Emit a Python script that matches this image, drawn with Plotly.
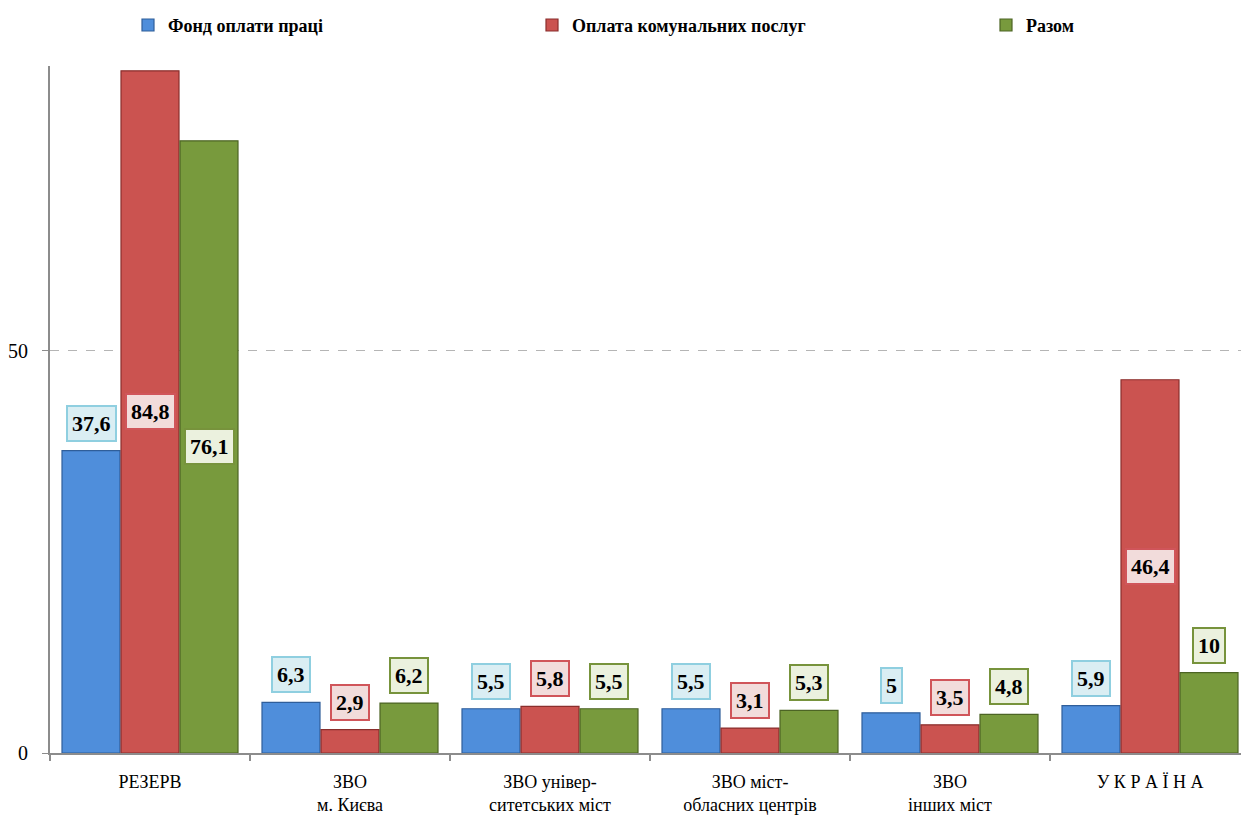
import plotly.graph_objects as go

categories = ["РЕЗЕРВ", "ЗВО<br>м. Києва", "ЗВО універ-<br>ситетських міст",
              "ЗВО міст-<br>обласних центрів", "ЗВО<br>інших міст", "У К Р А Ї Н А"]
series_names = ["Фонд оплати праці", "Оплата комунальних послуг", "Разом"]
fond = [37.6, 6.3, 5.5, 5.5, 5.0, 5.9]
komun = [84.8, 2.9, 5.8, 3.1, 3.5, 46.4]
razom = [76.1, 6.2, 5.5, 5.3, 4.8, 10.0]
label_text = [
    ["37,6", "6,3", "5,5", "5,5", "5", "5,9"],
    ["84,8", "2,9", "5,8", "3,1", "3,5", "46,4"],
    ["76,1", "6,2", "5,5", "5,3", "4,8", "10"],
]
# which labels sit inside the bar (centred)
label_inside = [
    [False] * 6,
    [True, False, False, False, False, True],
    [True, False, False, False, False, False],
]

bar_colors = ["#4F8EDB", "#CB5350", "#789A3D"]
bar_edges = ["#2F5E9A", "#8A2E2C", "#4C6424"]
box_fill = ["#DAEEF3", "#F2DCDB", "#EBF1DE"]
box_edge = ["#8FCFE0", "#D0555A", "#77933C"]

FONT = "Liberation Serif"
offsets = [-0.295, 0.0, 0.295]
bar_w = 0.29
values = [fond, komun, razom]

fig = go.Figure()
legend_ids = ["legend", "legend2", "legend3"]
for s in range(3):
    xs = [i + offsets[s] for i in range(len(categories))]
    fig.add_trace(go.Bar(
        x=xs, y=values[s], width=bar_w, name=series_names[s],
        marker=dict(color=bar_colors[s], line=dict(color=bar_edges[s], width=1.2)),
        legend=legend_ids[s], showlegend=True, hoverinfo="skip",
    ))
    for i, v in enumerate(values[s]):
        common = dict(showarrow=False, bgcolor=box_fill[s], bordercolor=box_edge[s],
                      borderwidth=2, borderpad=4,
                      font=dict(family=FONT, size=22, color="black"))
        if label_inside[s][i]:
            fig.add_annotation(x=xs[i], y=v / 2, text="<b>" + label_text[s][i] + "</b>",
                               yanchor="middle", **common)
        else:
            fig.add_annotation(x=xs[i], y=v, text="<b>" + label_text[s][i] + "</b>",
                               yanchor="bottom", yshift=9, **common)

n = len(categories)
leg_font = dict(family=FONT, size=18, color="black", weight="bold")
leg_common = dict(orientation="h", xref="container", yref="container", y=0.969,
                  yanchor="middle", xanchor="left", font=leg_font, bgcolor="rgba(0,0,0,0)")
fig.update_layout(
    width=1241, height=816,
    margin=dict(l=50, r=0, t=66, b=63, autoexpand=False),
    plot_bgcolor="white", paper_bgcolor="white",
    barmode="overlay", showlegend=True,
    font=dict(family=FONT, size=19, color="black"),
    legend=dict(x=128 / 1241, **leg_common),
    legend2=dict(x=532 / 1241, **leg_common),
    legend3=dict(x=986 / 1241, **leg_common),
    xaxis=dict(range=[-0.5, n - 0.545], tickmode="array", tickvals=list(range(n)),
               ticktext=categories, ticks="", showline=True, linecolor="#8C8C8C",
               linewidth=2, showgrid=False, zeroline=False, automargin=False,
               ticklabelstandoff=11,
               tickfont=dict(family=FONT, size=18, color="black"),
               minor=dict(tickmode="array", tickvals=[i + 0.5 for i in range(-1, n)],
                          ticks="outside", ticklen=6, tickcolor="#8C8C8C", tickwidth=1.5,
                          showgrid=False)),
    yaxis=dict(range=[0, 85.4], tickmode="array", tickvals=[0, 50], ticks="outside",
               ticklen=6, tickcolor="#8C8C8C", showline=True, linecolor="#8C8C8C",
               linewidth=2, showgrid=True, gridcolor="#B5B5B5", griddash="dash",
               gridwidth=1.2, zeroline=False, automargin=False,
               ticklabelstandoff=10,
               tickfont=dict(family=FONT, size=20, color="black")),
)

fig.write_html("out.html", config={"displayModeBar": False},
               post_script="document.body.style.margin='0';")
